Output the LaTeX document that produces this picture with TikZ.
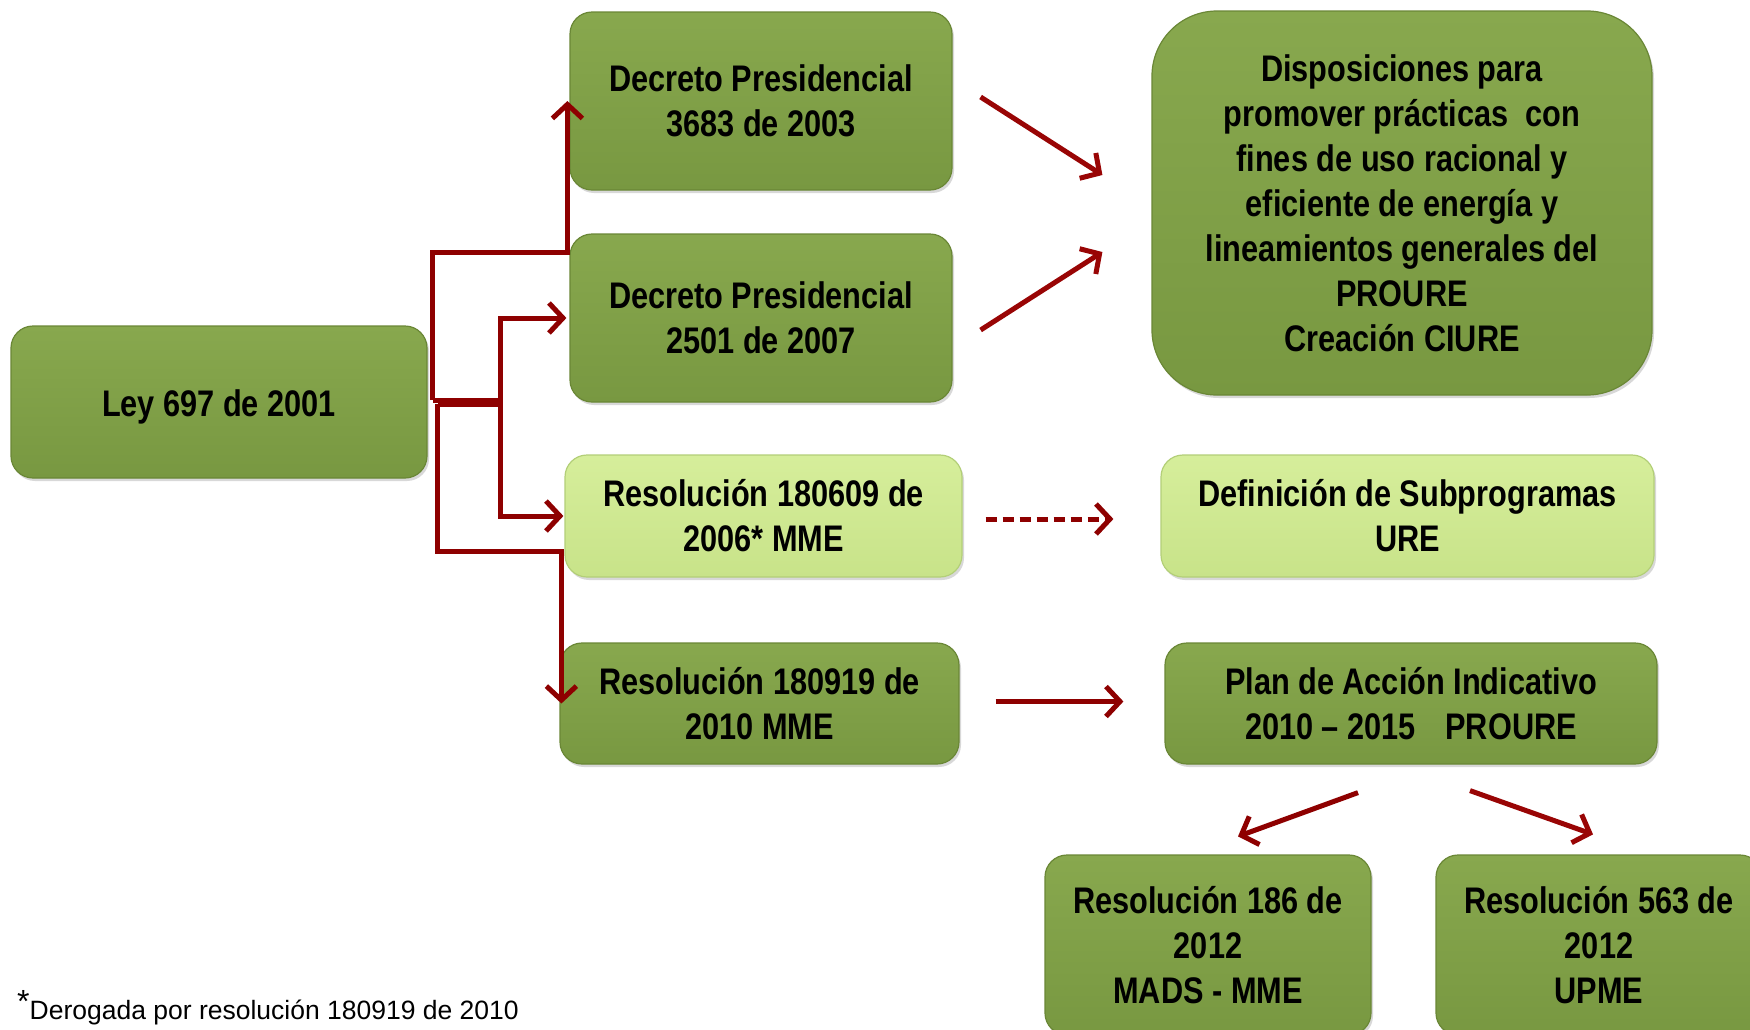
\documentclass[tikz,border=0pt]{standalone}
\usepackage{fontspec}
\setmainfont{Liberation Sans}
\newfontfamily\narrowfont[FakeStretch=0.83]{Liberation Sans}
\usetikzlibrary{arrows.meta,shadows}
\definecolor{arr}{HTML}{8E0000}
\definecolor{arr2}{HTML}{990505}
\definecolor{gtop}{HTML}{88A84E}
\definecolor{gbot}{HTML}{789841}
\definecolor{gedge}{HTML}{6A8736}
\definecolor{ltop}{HTML}{D6EE9B}
\definecolor{lbot}{HTML}{C8E389}
\definecolor{ledge}{HTML}{B3CF78}
\begin{document}
\begin{tikzpicture}[x=1pt,y=-1pt,
  boxbase/.style={line width=1.2pt, rounded corners=22pt, align=center, inner sep=0pt,
    font=\narrowfont\bfseries\fontsize{37}{45}\selectfont, text=black,
    drop shadow={shadow xshift=2pt, shadow yshift=-3pt, opacity=0.3}},
  dbox/.style={boxbase, draw=gedge, top color=gtop, bottom color=gbot},
  lbox/.style={boxbase, draw=ledge, top color=ltop, bottom color=lbot},
  conn/.style={draw=arr, line width=5pt, -{Straight Barb[length=14pt,width=30pt]}},
  dconn/.style={conn, dashed, dash pattern=on 11pt off 6pt},
  sconn/.style={conn, draw=arr2}
]
\useasboundingbox (0,0) rectangle (1750,1029);
\clip (0,0) rectangle (1750,1029);
\fill[white] (0,0) rectangle (1750,1029);

\node[dbox, minimum width=416pt, minimum height=152pt] (ley) at (219,402) {\raisebox{-5pt}[\height][\depth]{Ley 697 de 2001}};
\node[dbox, minimum width=382pt, minimum height=178pt] (d1) at (761,101) {Decreto Presidencial\\3683 de 2003};
\node[dbox, minimum width=382pt, minimum height=168pt] (d2) at (761,318) {Decreto Presidencial\\2501 de 2007};
\node[lbox, minimum width=397pt, minimum height=122pt] (r1) at (763.5,516) {Resolución 180609 de\\2006* MME};
\node[dbox, minimum width=399pt, minimum height=121pt] (r2) at (759.5,703.5) {Resolución 180919 de\\2010 MME};
\node[dbox, rounded corners=65pt, minimum width=500pt, minimum height=384pt] (disp) at (1402,203)
  {Disposiciones para\\promover prácticas\ \ con\\fines de uso racional y\\eficiente de energía y\\lineamientos generales del\\PROURE\\Creación CIURE};
\node[lbox, minimum width=493pt, minimum height=122pt] (defi) at (1407.5,516) {Definición de Subprogramas\\URE};
\node[dbox, minimum width=492pt, minimum height=121pt] (plan) at (1411,703.5) {Plan de Acción Indicativo\\2010 – 2015\hspace{0.8em}PROURE};
\node[dbox, minimum width=326pt, minimum height=180pt] (r186) at (1208,945) {Resolución 186 de\\2012\\MADS - MME};
\node[dbox, minimum width=326pt, minimum height=180pt] (r563) at (1599,945) {Resolución 563 de\\2012\\UPME};

% elbow connectors from Ley
\draw[conn] ([xshift=5pt,yshift=2pt]ley.east) -- ++(0,-148) -| ([xshift=-2pt]d1.west);
\draw[conn] ([xshift=5pt,yshift=2pt]ley.east) -- ++(68,0) |- ([xshift=-3pt]d2.west);
\draw[conn] ([xshift=10pt,yshift=-2pt]ley.east) -- ++(63,0) |- ([xshift=-1pt]r1.west);
\draw[conn] ([xshift=10pt,yshift=-2pt]ley.east) -- ++(0,147) -| ([xshift=2pt]r2.west);

% straight connectors
\draw[sconn] ([xshift=28pt,yshift=4pt]d1.east) -- ([xshift=-49pt,yshift=28pt]disp.west);
\draw[sconn] ([xshift=28pt,yshift=-12pt]d2.east) -- ([xshift=-49pt,yshift=-49pt]disp.west);
\draw[dconn] ([xshift=23pt,yshift=-3pt]r1.east) -- ([xshift=-47pt,yshift=-3pt]defi.west);
\draw[conn] ([xshift=36pt,yshift=2pt]r2.east) -- ([xshift=-41pt,yshift=2pt]plan.west);
\draw[conn] ([xshift=-53pt,yshift=-28pt]plan.south) -- ([xshift=30pt,yshift=18pt]r186.north);
\draw[sconn] ([xshift=59pt,yshift=-26pt]plan.south) -- ([xshift=-6pt,yshift=20pt]r563.north);

\node[anchor=base west, inner sep=0pt, font=\fontsize{26.5}{30}\selectfont] (foot) at (17,1019)
  {\raisebox{7pt}{\fontsize{32}{32}\selectfont*}Derogada por resolución 180919 de 2010};
\end{tikzpicture}
\end{document}
